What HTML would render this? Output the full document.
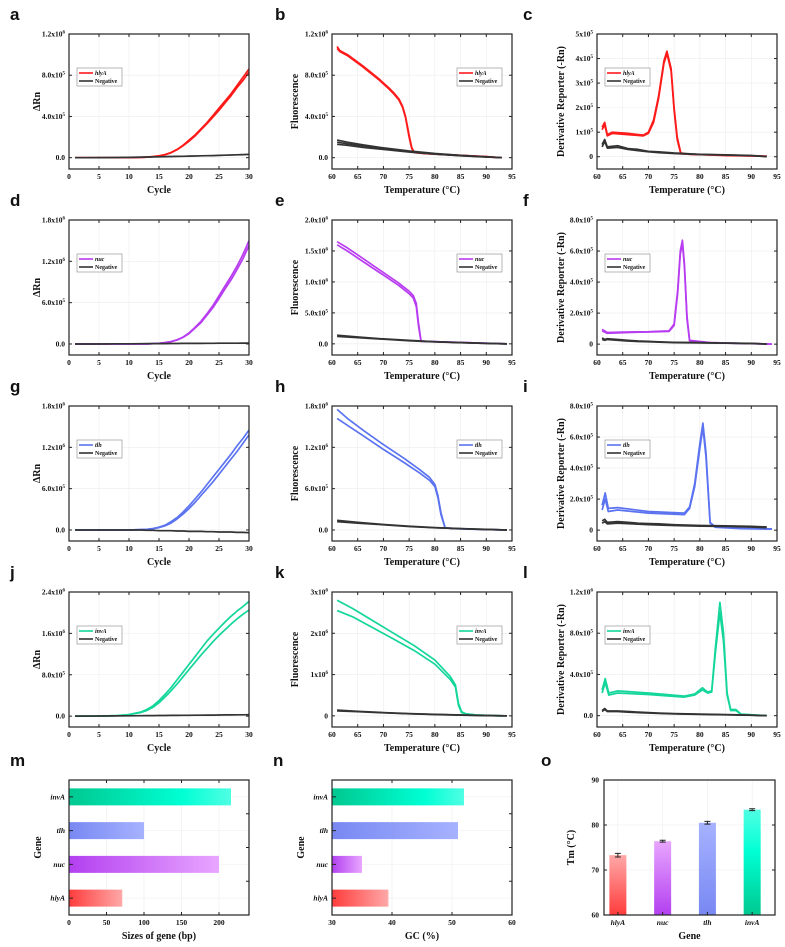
<!DOCTYPE html>
<html><head><meta charset="utf-8"><style>
html,body{margin:0;padding:0;background:#fff}
svg{display:block}
text{font-family:"Liberation Serif",serif;font-weight:bold;fill:#111}
.plt{font-family:"Liberation Sans",sans-serif;font-weight:bold;font-size:17px}
</style></head><body>
<svg id="fig" width="785" height="947" viewBox="0 0 785 947" xmlns="http://www.w3.org/2000/svg">
<defs>
<linearGradient id="gR" x1="0" x2="1" y1="0" y2="0"><stop offset="0" stop-color="#ff3c3c"/><stop offset="1" stop-color="#ffa8a8"/></linearGradient>
<linearGradient id="gP" x1="0" x2="1" y1="0" y2="0"><stop offset="0" stop-color="#b340f0"/><stop offset="1" stop-color="#e8a6ff"/></linearGradient>
<linearGradient id="gB" x1="0" x2="1" y1="0" y2="0"><stop offset="0" stop-color="#7888f2"/><stop offset="1" stop-color="#a6b2ff"/></linearGradient>
<linearGradient id="gG" x1="0" x2="1" y1="0" y2="0"><stop offset="0" stop-color="#00c890"/><stop offset="0.7" stop-color="#00ffd4"/><stop offset="1" stop-color="#50ffe4"/></linearGradient>
<linearGradient id="vR" x1="0" x2="0" y1="1" y2="0"><stop offset="0" stop-color="#ff3c3c"/><stop offset="1" stop-color="#ffa8a8"/></linearGradient>
<linearGradient id="vP" x1="0" x2="0" y1="1" y2="0"><stop offset="0" stop-color="#b340f0"/><stop offset="1" stop-color="#e8a6ff"/></linearGradient>
<linearGradient id="vB" x1="0" x2="0" y1="1" y2="0"><stop offset="0" stop-color="#7888f2"/><stop offset="1" stop-color="#a6b2ff"/></linearGradient>
<linearGradient id="vG" x1="0" x2="0" y1="1" y2="0"><stop offset="0" stop-color="#00c890"/><stop offset="0.6" stop-color="#00ffd4"/><stop offset="1" stop-color="#50ffe4"/></linearGradient>
</defs>
</svg>
<script>
// ---- data ----
const ampCycles=[1,5,8,10,12,13,14,15,16,17,18,19,20,21,22,23,24,25,26,27,28,29,30];
const hlyAmp1=[0,0,0,0.01,0.03,0.05,0.1,0.18,0.3,0.5,0.8,1.2,1.7,2.2,2.8,3.4,4.1,4.8,5.5,6.2,7.0,7.8,8.6];
const hlyAmp2=[0,0,0,0.01,0.03,0.05,0.1,0.17,0.28,0.47,0.76,1.15,1.6,2.1,2.7,3.3,3.95,4.6,5.3,6.0,6.8,7.5,8.3];
const hlyNeg=[0,0.01,0.02,0.03,0.05,0.06,0.07,0.08,0.1,0.11,0.12,0.13,0.15,0.16,0.18,0.19,0.2,0.22,0.24,0.26,0.28,0.3,0.32];
const nucAmp1=[0,0,0,0,0,0,0.005,0.01,0.02,0.035,0.06,0.1,0.16,0.24,0.33,0.44,0.56,0.7,0.84,0.98,1.13,1.3,1.5];
const nucAmp2=[0,0,0,0,0,0,0.005,0.01,0.02,0.033,0.056,0.095,0.15,0.23,0.31,0.42,0.53,0.66,0.8,0.93,1.08,1.24,1.43];
const nucNeg=[0,0,0.002,0.003,0.004,0.005,0.005,0.006,0.006,0.007,0.007,0.008,0.008,0.009,0.009,0.01,0.01,0.011,0.011,0.012,0.012,0.013,0.013];
const tlhAmp1=[0,0,0,0,0.005,0.01,0.02,0.04,0.07,0.12,0.18,0.26,0.35,0.45,0.55,0.66,0.77,0.88,0.99,1.1,1.22,1.33,1.45];
const tlhAmp2=[0,0,0,0,0.005,0.01,0.02,0.035,0.06,0.1,0.16,0.23,0.31,0.4,0.5,0.6,0.7,0.81,0.92,1.03,1.14,1.26,1.38];
const tlhNeg=[0,0,0,0,0,-0.005,-0.005,-0.01,-0.01,-0.01,-0.015,-0.015,-0.02,-0.02,-0.02,-0.025,-0.025,-0.03,-0.03,-0.03,-0.035,-0.035,-0.04];
const invAmp1=[0,0,0.01,0.03,0.08,0.13,0.2,0.3,0.42,0.55,0.7,0.85,1.0,1.15,1.3,1.45,1.58,1.7,1.82,1.93,2.03,2.12,2.22];
const invAmp2=[0,0,0.01,0.03,0.07,0.11,0.17,0.26,0.37,0.49,0.62,0.76,0.9,1.04,1.18,1.31,1.44,1.56,1.67,1.78,1.88,1.97,2.05];
const invNeg=[0,0.002,0.004,0.006,0.008,0.01,0.011,0.012,0.013,0.014,0.015,0.016,0.017,0.018,0.019,0.02,0.021,0.022,0.023,0.024,0.025,0.026,0.027];

const negMeltT=[61,63,66,70,75,80,85,90,93];
const negMelt1=[0.17,0.15,0.125,0.095,0.065,0.04,0.022,0.008,0];
const negMelt2=[0.15,0.135,0.115,0.088,0.06,0.037,0.02,0.007,0];
const negMelt3=[0.13,0.12,0.1,0.08,0.055,0.034,0.018,0.006,0];
const hlyMeltT=[61,61.5,63,66,69,71,72,73,73.7,74.3,75,75.5,76,78,82,86,90,93];
const hlyMelt1=[1.08,1.04,1.0,0.89,0.77,0.68,0.63,0.57,0.5,0.4,0.22,0.1,0.05,0.04,0.03,0.02,0.01,0];
const hlyMelt2=[1.06,1.03,0.99,0.88,0.76,0.67,0.62,0.56,0.49,0.39,0.2,0.09,0.05,0.04,0.03,0.02,0.01,0];
const nucMeltT=[61,63,66,70,73,75,75.8,76.4,76.8,77.3,78,82,86,90,94];
const nucMelt1=[1.65,1.55,1.38,1.15,0.98,0.85,0.78,0.65,0.35,0.05,0.04,0.03,0.02,0.01,0];
const nucMelt2=[1.6,1.5,1.33,1.11,0.94,0.81,0.74,0.6,0.3,0.04,0.04,0.03,0.02,0.01,0];
const negMeltT2=[61,65,70,75,80,85,90,94];
const negMeltE1=[0.14,0.11,0.08,0.055,0.035,0.02,0.008,0];
const negMeltE2=[0.12,0.1,0.075,0.05,0.032,0.018,0.007,0];
const tlhMeltT=[61,63,66,70,74,77,79,80,80.6,81.2,82,84,88,94];
const tlhMelt1=[1.75,1.62,1.45,1.24,1.04,0.88,0.76,0.66,0.5,0.25,0.03,0.02,0.01,0];
const tlhMelt2=[1.62,1.52,1.37,1.17,0.98,0.83,0.72,0.63,0.47,0.22,0.03,0.02,0.01,0];
const invMeltT=[61,64,68,72,76,80,83,84,84.6,85.2,86,88,90,93];
const invMelt1=[2.8,2.6,2.3,2.0,1.7,1.35,0.95,0.75,0.3,0.1,0.05,0.02,0.01,0];
const invMelt2=[2.55,2.4,2.13,1.86,1.58,1.25,0.88,0.7,0.25,0.08,0.05,0.02,0.01,0];

const hlyDerT=[61,61.5,62,63,66,69,70,71,72,73,73.6,74.4,75,75.6,76.3,78,85,93];
const hlyDer1=[1.2,1.4,0.9,1.0,0.95,0.88,1.0,1.5,2.5,3.9,4.3,3.6,2.0,0.8,0.15,0.1,0.06,0.02];
const hlyDer2=[1.1,1.3,0.85,0.95,0.9,0.85,0.95,1.4,2.4,3.8,4.2,3.5,1.9,0.7,0.12,0.1,0.05,0.02];
const negDerT=[61,61.5,62,64,66,68,70,72,75,80,85,90,93];
const negDerC1=[0.5,0.7,0.4,0.45,0.33,0.3,0.22,0.2,0.15,0.1,0.08,0.05,0.01];
const negDerC2=[0.4,0.62,0.35,0.38,0.3,0.25,0.2,0.17,0.13,0.09,0.07,0.04,0];
const nucDerT=[61,62,66,70,74,75,75.7,76.2,76.6,77,77.5,78,82,88,94];
const nucDer1=[0.95,0.75,0.78,0.8,0.85,1.3,3.5,6.0,6.7,5.2,1.8,0.25,0.1,0.05,0];
const nucDer2=[0.85,0.7,0.75,0.78,0.82,1.2,3.3,5.8,6.5,5.0,1.6,0.2,0.1,0.05,0];
const negDerF1=[0.4,0.3,0.35,0.3,0.25,0.2,0.18,0.15,0.12,0.1,0.07,0.05,0.01];
const negDerF2=[0.3,0.25,0.3,0.25,0.2,0.17,0.15,0.13,0.1,0.08,0.06,0.04,0];
const tlhDerT=[61,61.6,62.2,64,70,77,78,79,80,80.6,81.2,82,83,88,94];
const tlhDer1=[1.6,2.4,1.4,1.45,1.2,1.1,1.5,3.0,5.6,6.9,5.0,0.5,0.2,0.12,0.08];
const tlhDer2=[1.3,2.0,1.2,1.3,1.1,1.0,1.4,2.8,5.3,6.6,4.7,0.45,0.18,0.1,0.06];
const negDerI1=[0.6,0.7,0.5,0.55,0.5,0.45,0.42,0.4,0.35,0.3,0.28,0.25,0.2];
const negDerI2=[0.45,0.55,0.4,0.45,0.42,0.38,0.35,0.33,0.3,0.26,0.24,0.2,0.16];
const invDerT=[61,61.6,62.3,64,70,77,79,80.5,81.5,82.3,83,83.9,84.6,85.3,86,87,88,93];
const invDer1=[2.5,3.6,2.2,2.4,2.2,1.9,2.1,2.7,2.3,2.4,6.5,11.0,8.0,2.2,0.6,0.6,0.15,0];
const invDer2=[2.2,3.2,2.0,2.2,2.05,1.8,2.0,2.5,2.2,2.3,6.0,10.0,7.2,2.0,0.5,0.5,0.12,0];
const negDerL1=[0.5,0.7,0.45,0.45,0.4,0.35,0.3,0.25,0.2,0.15,0.1,0.05,0];
const negDerL2=[0.4,0.6,0.4,0.4,0.35,0.3,0.26,0.22,0.17,0.12,0.08,0.04,0];

const genes=["hlyA","nuc","tlh","invA"];
const geneSizes=[71,200,100,216];
const geneGC=[39.4,35,51,52];
const geneTm=[73.3,76.4,80.5,83.4];
const geneTmErr=[0.4,0.2,0.3,0.2];

// ---- drawing ----
const NS="http://www.w3.org/2000/svg";
const svg=document.getElementById('fig');
function el(tag,attrs,parent){const e=document.createElementNS(NS,tag);for(const k in attrs)e.setAttribute(k,attrs[k]);(parent||svg).appendChild(e);return e;}
function txt(s,attrs,parent){const t=el('text',attrs,parent);t.textContent=s;return t;}
function sciLabel(g,x,y,mant,exp){
  const t=el('text',{x:x,y:y,'text-anchor':'end','font-size':7.5},g);
  
  
  if(exp===null){t.textContent=mant;return;}
  const a=document.createElementNS(NS,'tspan');a.textContent=mant+'x10';t.appendChild(a);
  const b=document.createElementNS(NS,'tspan');b.textContent=exp;b.setAttribute('dy','-3');b.setAttribute('font-size','5');t.appendChild(b);
}
const cols={red:'#ff1a1a',pur:'#b83cf0',blu:'#5b73f0',grn:'#14d69a',neg:'#333'};
const boxW=180,boxH=135;
const colX=[69,332,597],rowY=[34,220,406,592];

function linePanel(p){
  const g=el('g',{});
  
  
  const L=p.x,T=p.y,R=L+boxW,B=T+boxH;
  const xs=v=>L+(v-p.xd[0])/(p.xd[1]-p.xd[0])*boxW;
  const ys=v=>B-(v-p.yd[0])/(p.yd[1]-p.yd[0])*boxH;
  const pl=txt(p.letter,{x:L-59+(p.lx||0),y:T-14,class:'plt'},g);
  
  
  p.xt.forEach(v=>{el('line',{x1:xs(v),x2:xs(v),y1:T,y2:B,stroke:'#ececec','stroke-width':0.6},g);});
  p.yt.forEach(v=>{el('line',{x1:L,x2:R,y1:ys(v),y2:ys(v),stroke:'#ececec','stroke-width':0.6},g);});
  p.series.forEach(s=>{
    s.reps.forEach(r=>{
      const d=s.x.map((xv,i)=>(i?'L':'M')+xs(xv).toFixed(1)+','+ys(r[i]*s.k).toFixed(1)).join('');
      const path=el('path',{d:d,fill:'none',stroke:s.c,'stroke-width':1.7,'stroke-linejoin':'round'},g);
      
      
    });
  });
  const fr=el('rect',{x:L,y:T,width:boxW,height:boxH,fill:'none',stroke:'#222','stroke-width':1.2},g);
  
  
  p.xt.forEach(v=>{
    el('line',{x1:xs(v),x2:xs(v),y1:B,y2:B-3,stroke:'#222'},g);
    el('line',{x1:xs(v),x2:xs(v),y1:T,y2:T+3,stroke:'#222'},g);
    const t=txt(String(v),{x:xs(v),y:B+10,'text-anchor':'middle','font-size':7.5},g);
    
    
  });
  p.yt.forEach((v,i)=>{
    el('line',{x1:L,x2:L+3,y1:ys(v),y2:ys(v),stroke:'#222'},g);
    el('line',{x1:R,x2:R-3,y1:ys(v),y2:ys(v),stroke:'#222'},g);
    sciLabel(g,L-4,ys(v)+2.5,p.ytl[i][0],p.ytl[i][1]);
  });
  const xt=txt(p.xl,{x:L+boxW/2,y:B+24,'text-anchor':'middle','font-size':10},g);
  
  
  const yx=L-p.yo,yy=T+boxH/2;
  const yt=txt(p.yl,{x:yx,y:yy,'text-anchor':'middle','font-size':10,transform:`rotate(-90 ${yx} ${yy})`},g);
  
  
  const lgx=p.leg==='r'?R-55:L+8, lgy=T+34;
  const lg=el('g',{},g);
  
  
  el('rect',{x:lgx,y:lgy,width:45,height:18,fill:'#fff',stroke:'#888','stroke-width':0.6},lg);
  [[p.series[0].c,p.series[0].name,'italic'],[cols.neg,'Negative','normal']].forEach((e,i)=>{
    const ey=lgy+5+i*8;
    el('line',{x1:lgx+2,x2:lgx+16,y1:ey,y2:ey,stroke:e[0],'stroke-width':1.6},lg);
    const t=txt(e[1],{x:lgx+18,y:ey+2,'font-size':6,'font-style':e[2]},lg);
    
    
  });
}

const ampXt=[0,5,10,15,20,25,30],tXt=[60,65,70,75,80,85,90,95];
const rows=[
 {g:'hlyA',c:cols.red,letters:['a','b','c'],
  amp:{yd:[-0.11,1.2],yt:[0,0.4,0.8,1.2],ytl:[['0.0',null],['4.0','5'],['8.0','5'],['1.2','6']],r:[hlyAmp1,hlyAmp2],k:0.1,neg:[hlyNeg],nk:0.1},
  melt:{yd:[-0.11,1.2],yt:[0,0.4,0.8,1.2],ytl:[['0.0',null],['4.0','5'],['8.0','5'],['1.2','6']],x:hlyMeltT,r:[hlyMelt1,hlyMelt2],nx:negMeltT,neg:[negMelt1,negMelt2,negMelt3]},
  der:{yd:[-0.5,5],yt:[0,1,2,3,4,5],ytl:[['0',null],['1','5'],['2','5'],['3','5'],['4','5'],['5','5']],x:hlyDerT,r:[hlyDer1,hlyDer2],neg:[negDerC1,negDerC2],k:1}},
 {g:'nuc',c:cols.pur,letters:['d','e','f'],
  amp:{yd:[-0.16,1.8],yt:[0,0.6,1.2,1.8],ytl:[['0.0',null],['6.0','5'],['1.2','6'],['1.8','6']],r:[nucAmp1,nucAmp2],k:1,neg:[nucNeg],nk:1},
  melt:{yd:[-0.18,2.0],yt:[0,0.5,1,1.5,2],ytl:[['0.0',null],['5.0','5'],['1.0','6'],['1.5','6'],['2.0','6']],x:nucMeltT,r:[nucMelt1,nucMelt2],nx:negMeltT2,neg:[negMeltE1,negMeltE2]},
  der:{yd:[-0.7,8],yt:[0,2,4,6,8],ytl:[['0',null],['2.0','5'],['4.0','5'],['6.0','5'],['8.0','5']],x:nucDerT,r:[nucDer1,nucDer2],neg:[negDerF1,negDerF2],k:1}},
 {g:'tlh',c:cols.blu,letters:['g','h','i'],
  amp:{yd:[-0.16,1.8],yt:[0,0.6,1.2,1.8],ytl:[['0.0',null],['6.0','5'],['1.2','6'],['1.8','6']],r:[tlhAmp1,tlhAmp2],k:1,neg:[tlhNeg],nk:1},
  melt:{yd:[-0.16,1.8],yt:[0,0.6,1.2,1.8],ytl:[['0.0',null],['6.0','5'],['1.2','6'],['1.8','6']],x:tlhMeltT,r:[tlhMelt1,tlhMelt2],nx:negMeltT2,neg:[negMeltE1,negMeltE2]},
  der:{yd:[-0.7,8],yt:[0,2,4,6,8],ytl:[['0',null],['2.0','5'],['4.0','5'],['6.0','5'],['8.0','5']],x:tlhDerT,r:[tlhDer1,tlhDer2],neg:[negDerI1,negDerI2],k:1}},
 {g:'invA',c:cols.grn,letters:['j','k','l'],
  amp:{yd:[-0.21,2.4],yt:[0,0.8,1.6,2.4],ytl:[['0.0',null],['8.0','5'],['1.6','6'],['2.4','6']],r:[invAmp1,invAmp2],k:1,neg:[invNeg],nk:1},
  melt:{yd:[-0.27,3],yt:[0,1,2,3],ytl:[['0',null],['1','6'],['2','6'],['3','6']],x:invMeltT,r:[invMelt1,invMelt2],nx:negMeltT2,neg:[negMeltE1,negMeltE2]},
  der:{yd:[-1.1,12],yt:[0,4,8,12],ytl:[['0.0',null],['4.0','5'],['8.0','5'],['1.2','6']],x:invDerT,r:[invDer1,invDer2],neg:[negDerL1,negDerL2],k:1}}
];
rows.forEach((r,ri)=>{
  const y=rowY[ri];
  linePanel({letter:r.letters[0],x:colX[0],y:y,xd:[0,30],yd:r.amp.yd,xt:ampXt,yt:r.amp.yt,ytl:r.amp.ytl,xl:'Cycle',yl:'ΔRn',yo:29,leg:'l',
    series:[{name:r.g,c:r.c,x:ampCycles,reps:r.amp.r,k:r.amp.k},{name:'negative',c:cols.neg,x:ampCycles,reps:r.amp.neg,k:r.amp.nk}]});
  linePanel({letter:r.letters[1],x:colX[1],y:y,xd:[60,95],yd:r.melt.yd,xt:tXt,yt:r.melt.yt,ytl:r.melt.ytl,xl:'Temperature (°C)',yl:'Fluorescence',yo:34,leg:'r',lx:2,
    series:[{name:r.g,c:r.c,x:r.melt.x,reps:r.melt.r,k:1},{name:'negative',c:cols.neg,x:r.melt.nx,reps:r.melt.neg,k:1}]});
  linePanel({letter:r.letters[2],x:colX[2],y:y,xd:[60,95],yd:r.der.yd,xt:tXt,yt:r.der.yt,ytl:r.der.ytl,xl:'Temperature (°C)',yl:'Derivative Reporter (-Rn)',yo:33,leg:'l',lx:-15,
    series:[{name:r.g,c:r.c,x:r.der.x,reps:r.der.r,k:1},{name:'negative',c:cols.neg,x:negDerT,reps:r.der.neg,k:1}]});
});
const hFills=['gR','gP','gB','gG'],vFills=['vR','vP','vB','vG'];
function hbarPanel(letter,L,vals,xd,xt,xl){
  const g=el('g',{});
  
  
  const T=780,B=T+boxH,R=L+boxW;
  const xs=v=>L+(v-xd[0])/(xd[1]-xd[0])*boxW;
  const band=boxH/genes.length;
  const pl=txt(letter,{x:L-59,y:T-14,class:'plt'},g);
  
  
  xt.forEach(v=>el('line',{x1:xs(v),x2:xs(v),y1:T,y2:B,stroke:'#ececec','stroke-width':0.6},g));
  genes.forEach((gn,i)=>{
    const cy=B-band*(i+0.5);
    el('line',{x1:L,x2:R,y1:cy,y2:cy,stroke:'#ececec','stroke-width':0.6},g);
    const b=el('rect',{x:L,y:cy-8.5,width:xs(vals[i])-L,height:17,fill:'url(#'+hFills[i]+')'},g);
    
    
    el('line',{x1:L,x2:L+4,y1:cy,y2:cy,stroke:'#222'},g);
    el('line',{x1:R,x2:R-3,y1:cy-band/2,y2:cy-band/2,stroke:'#222'},g);
    const t=txt(gn,{x:L-4,y:cy+2.5,'text-anchor':'end','font-size':7.5,'font-style':'italic'},g);
    
    
  });
  el('rect',{x:L,y:T,width:boxW,height:boxH,fill:'none',stroke:'#222','stroke-width':1.2},g);
  xt.forEach(v=>{
    el('line',{x1:xs(v),x2:xs(v),y1:B,y2:B-3,stroke:'#222'},g);
    el('line',{x1:xs(v),x2:xs(v),y1:T,y2:T+3,stroke:'#222'},g);
    const t=txt(String(v),{x:xs(v),y:B+10,'text-anchor':'middle','font-size':7.5},g);
    
    
  });
  const a=txt(xl,{x:L+boxW/2,y:B+24,'text-anchor':'middle','font-size':10},g);
  
  
  const yx=L-28,yy=T+boxH/2;
  const b=txt('Gene',{x:yx,y:yy,'text-anchor':'middle','font-size':10,transform:`rotate(-90 ${yx} ${yy})`},g);
  
  
}
hbarPanel('m',69,geneSizes,[0,240],[0,50,100,150,200],'Sizes of gene (bp)');
hbarPanel('n',332,geneGC,[30,60],[30,40,50,60],'GC (%)');
(function(){
  const g=el('g',{});
  
  
  const L=604,T=780,W=171,B=T+boxH,R=L+W,yd=[60,90],xd=[-0.31,3.51];
  const ys=v=>B-(v-yd[0])/(yd[1]-yd[0])*boxH;
  const xs=v=>L+(v-xd[0])/(xd[1]-xd[0])*W;
  const pl=txt('o',{x:541,y:T-14,class:'plt'},g);
  
  
  [60,70,80,90].forEach(v=>el('line',{x1:L,x2:R,y1:ys(v),y2:ys(v),stroke:'#ececec','stroke-width':0.6},g));
  genes.forEach((gn,i)=>{
    const cx=xs(i);
    el('line',{x1:cx,x2:cx,y1:T,y2:B,stroke:'#ececec','stroke-width':0.6},g);
    const b=el('rect',{x:cx-8.5,y:ys(geneTm[i]),width:17,height:B-ys(geneTm[i]),fill:'url(#'+vFills[i]+')'},g);
    
    
    const e1=ys(geneTm[i]+geneTmErr[i]),e2=ys(geneTm[i]-geneTmErr[i]);
    const eb=el('path',{d:`M${cx},${e1}L${cx},${e2}M${cx-3},${e1}L${cx+3},${e1}M${cx-3},${e2}L${cx+3},${e2}`,stroke:'#222','stroke-width':1},g);
    
    
    el('line',{x1:cx,x2:cx,y1:B,y2:B-3,stroke:'#222'},g);
    const t=txt(gn,{x:cx,y:B+10,'text-anchor':'middle','font-size':7.5,'font-style':'italic'},g);
    
    
  });
  el('rect',{x:L,y:T,width:W,height:boxH,fill:'none',stroke:'#222','stroke-width':1.2},g);
  [60,70,80,90].forEach(v=>{
    el('line',{x1:L,x2:L+3,y1:ys(v),y2:ys(v),stroke:'#222'},g);
    el('line',{x1:R,x2:R-3,y1:ys(v),y2:ys(v),stroke:'#222'},g);
    const t=txt(String(v),{x:L-5,y:ys(v)+2.5,'text-anchor':'end','font-size':7.5},g);
    
    
  });
  const a=txt('Gene',{x:L+W/2,y:B+24,'text-anchor':'middle','font-size':10},g);
  
  
  const yx=L-30,yy=T+boxH/2;
  const b=txt('Tm (°C)',{x:yx,y:yy,'text-anchor':'middle','font-size':10,transform:`rotate(-90 ${yx} ${yy})`},g);
  
  
})();
</script>
</body></html>
